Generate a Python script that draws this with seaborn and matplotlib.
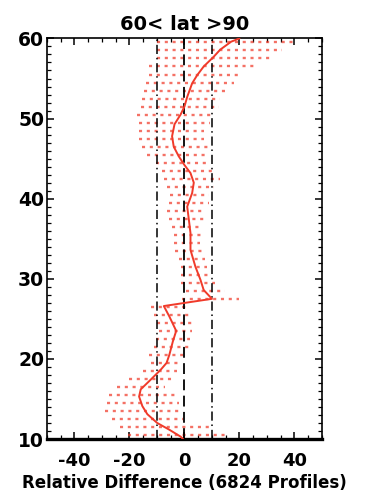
import matplotlib
matplotlib.use("Agg")
import matplotlib.pyplot as plt
from matplotlib.ticker import MultipleLocator
import seaborn as sns
import pandas as pd

# Mean relative-difference profile (altitude in km, difference in %)
profile_alt = [60.0, 59.6, 58.6, 57.7, 56.5, 55.4, 54.4, 52.7, 51.5, 50.5,
               49.3, 47.8, 46.5, 45.3, 44.2, 43.2, 42.0, 40.7, 39.0, 37.4,
               35.7, 33.6, 31.5, 29.9, 28.6, 27.5, 26.6, 25.3, 23.5, 22.2,
               20.5, 19.5, 18.7, 17.4, 16.2, 15.3, 14.1, 13.1, 12.0, 11.2,
               10.3, 10.0]
profile_diff = [20.0, 17.0, 13.0, 10.6, 7.0, 4.6, 2.8, 1.0, 0.0, -1.4,
                -3.6, -4.5, -3.9, -2.1, 0.0, 2.2, 3.4, 2.8, 1.0, 1.6,
                2.2, 2.2, 4.0, 5.8, 7.0, 10.0, -7.5, -5.5, -3.0, -4.2,
                -5.5, -6.5, -8.5, -12.3, -15.9, -16.5, -15.3, -13.5, -9.9, -5.7,
                -1.4, -0.5]

# Spread of the differences at each 1 km level
level_alt = [10.5, 11.5, 12.5, 13.5, 14.5, 15.5, 16.5, 17.5, 18.5, 19.5,
             20.5, 21.5, 22.5, 23.5, 24.5, 25.5, 26.5, 27.5, 28.5, 29.5,
             30.5, 31.5, 32.5, 33.5, 34.5, 35.5, 36.5, 37.5, 38.5, 39.5,
             40.5, 41.5, 42.5, 43.5, 44.5, 45.5, 46.5, 47.5, 48.5, 49.5,
             50.5, 51.5, 52.5, 53.5, 54.5, 55.5, 56.5, 57.5, 58.5, 59.5]
level_min = [-20.5, -23.5, -26.5, -29.0, -28.3, -27.4, -24.7, -20.2, -15.0, -12.0,
             -12.9, -11.1, -10.5, -9.3, -9.9, -11.1, -12.3, -0.8, 0.4, -1.4,
             -1.4, -1.4, -2.1, -3.3, -3.9, -3.9, -4.5, -5.7, -6.3, -5.7,
             -5.1, -6.3, -7.5, -8.1, -10.5, -13.5, -15.3, -16.5, -16.5, -16.5,
             -17.1, -15.9, -15.3, -14.7, -14.1, -12.9, -12.9, -9.9, -9.9, -9.9]
level_max = [15.5, 9.0, -0.5, -1.0, -2.0, -3.0, -7.2, -4.5, -2.7, -1.5,
             1.0, 2.2, 2.2, 2.8, 2.8, 2.2, 1.0, 19.7, 14.9, 11.2,
             9.4, 8.2, 7.6, 7.0, 5.8, 7.0, 6.4, 7.0, 7.6, 8.8,
             8.8, 10.6, 13.0, 10.0, 9.4, 8.8, 8.8, 7.0, 7.0, 9.4,
             10.0, 12.4, 13.0, 15.5, 17.9, 20.3, 25.7, 31.2, 35.4, 40.8]

x_ticks = [-40, -20, 0, 20, 40]
y_ticks = [10, 20, 30, 40, 50, 60]
title = "60< lat >90"
xlabel = "Relative Difference (6824 Profiles)"

sns.set_style("ticks")
plt.rcParams["font.family"] = ["DejaVu Sans"]
plt.rcParams["font.weight"] = "bold"
plt.rcParams["axes.unicode_minus"] = False
plt.rcParams["text.color"] = "black"
plt.rcParams["xtick.color"] = "black"
plt.rcParams["ytick.color"] = "black"
plt.rcParams["xtick.labelcolor"] = "black"
plt.rcParams["ytick.labelcolor"] = "black"

fig = plt.figure(figsize=(3.7, 4.93), dpi=100)
ax = fig.add_axes([0.127, 0.1095, 0.743, 0.8125])

red = "#f03a2a"

# dotted spread rows
ax.hlines(level_alt, level_min, level_max, colors=red, alpha=0.72,
          linewidth=1.7, linestyles=(0, (1.3, 2.0)), zorder=1)

# reference lines
ax.axvline(0, color="black", linewidth=1.3, linestyle=(0, (6, 3)), zorder=2)
for xv in (-10, 10):
    ax.axvline(xv, color="black", linewidth=1.1,
               linestyle=(0, (6, 2.5, 1, 2.5)), zorder=2)

df = pd.DataFrame({"alt": profile_alt, "diff": profile_diff})
sns.lineplot(data=df, x="diff", y="alt", sort=False, orient="y",
             color=red, linewidth=1.4, ax=ax, zorder=3)

ax.set_xlim(-50, 50)
ax.set_ylim(10, 60)
ax.set_xticks(x_ticks)
ax.set_yticks(y_ticks)
ax.xaxis.set_minor_locator(MultipleLocator(5))
ax.yaxis.set_minor_locator(MultipleLocator(1))
ax.tick_params(which="both", direction="in", top=True, right=True,
               color="black", labelcolor="black")
ax.tick_params(which="major", length=5, width=1.1)
ax.tick_params(which="minor", length=3, width=0.9)
ax.tick_params(axis="x", which="major", labelsize=13, pad=9)
ax.tick_params(axis="y", which="major", labelsize=13.5, pad=2)
for lab in ax.get_xticklabels() + ax.get_yticklabels():
    lab.set_fontweight("bold")

for side in ("left", "right", "top"):
    ax.spines[side].set_linewidth(1.2)
ax.spines["bottom"].set_linewidth(2.4)
for sp in ax.spines.values():
    sp.set_color("black")

ax.set_xlabel(xlabel, fontsize=12, fontweight="bold", labelpad=3, color="black")
ax.set_ylabel("")
ax.set_title(title, fontsize=14, fontweight="bold", pad=6, color="black")

fig.savefig("out.png", dpi=100)
